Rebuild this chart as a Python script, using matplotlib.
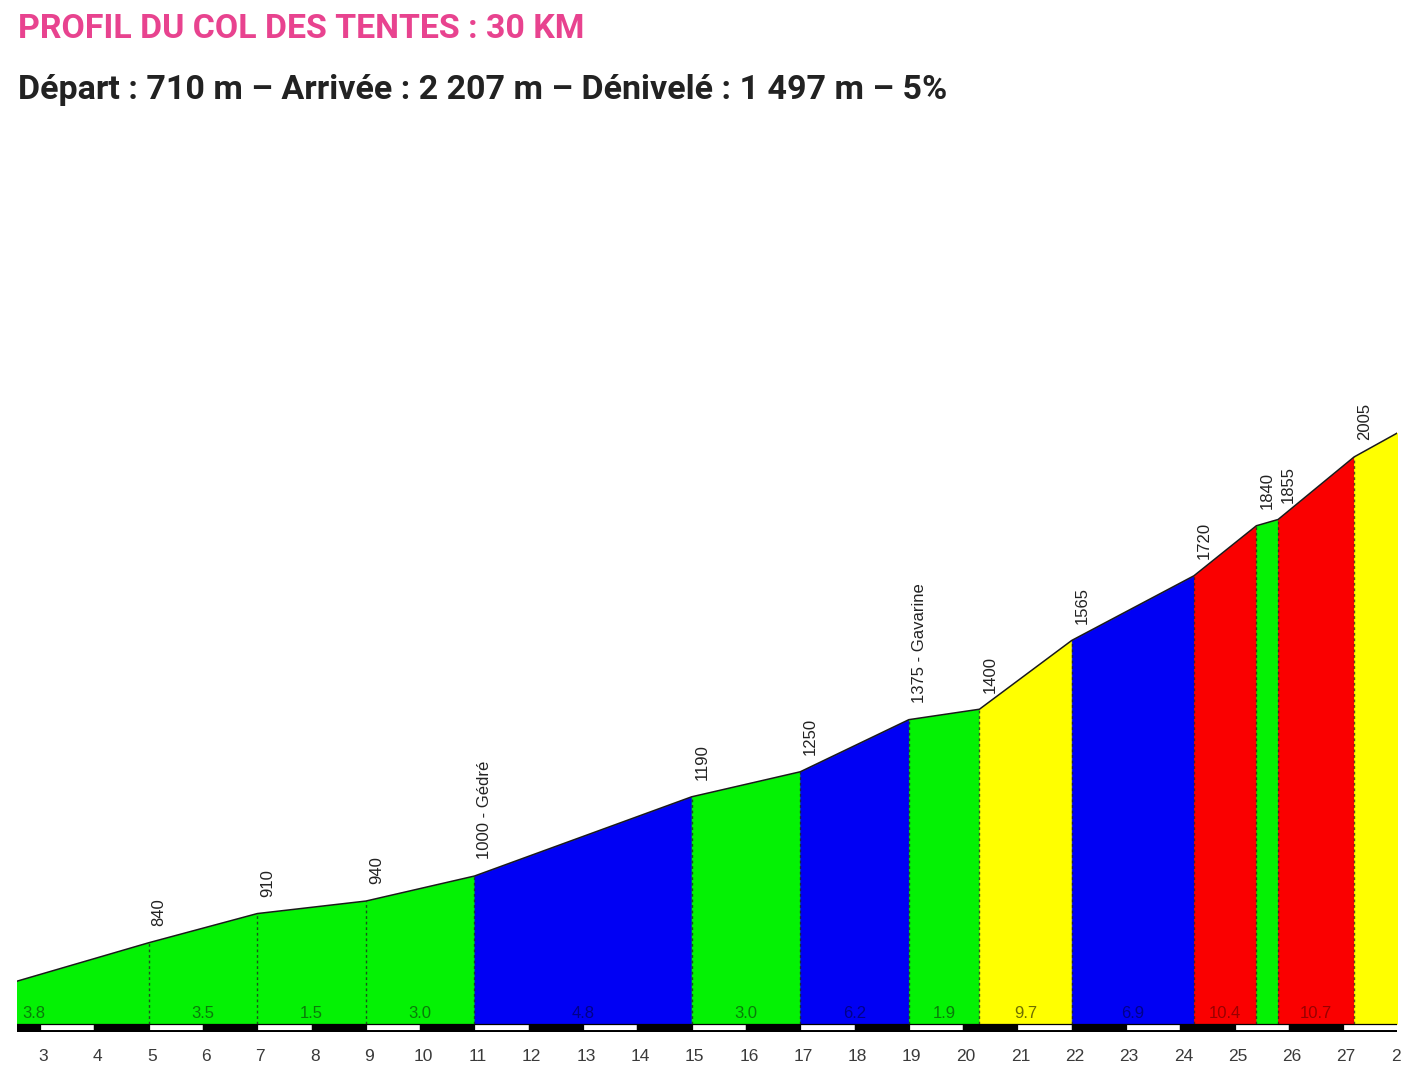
import matplotlib
matplotlib.use("Agg")
import matplotlib.pyplot as plt
from matplotlib.patches import Rectangle
from matplotlib.transforms import Bbox, TransformedBbox, ScaledTranslation
import math

# ---------------- data ----------------
title = "PROFIL DU COL DES TENTES : 30 KM"
subtitle = "Départ : 710 m – Arrivée : 2 207 m – Dénivelé : 1 497 m – 5%"

km = [0, 5, 7, 9, 11, 15, 17, 19, 20.3, 22, 24.25, 25.4, 25.8, 27.2, 30]
elev = [650, 840, 910, 940, 1000, 1190, 1250, 1375, 1400, 1565, 1720, 1840, 1855, 2005, 2207]
point_labels = ["", "840", "910", "940", "1000 - Gédré", "1190", "1250", "1375 - Gavarine",
                "1400", "1565", "1720", "1840", "1855", "2005", ""]
grade_labels = ["3.8", "3.5", "1.5", "3.0", "4.8", "3.0", "6.2", "1.9", "9.7", "6.9",
                "10.4", "", "10.7", ""]
km_ticks = list(range(3, 28))

# ---------------- style ----------------
FILL = {"green": "#04F204", "blue": "#0000F4", "yellow": "#FFFF00", "red": "#FA0000"}
TXT = {"green": "#0A7A0A", "blue": "#00008A", "yellow": "#6E6E00", "red": "#980000"}


def grade_class(g):
    if g < 4:
        return "green"
    if g < 7:
        return "blue"
    if g < 10:
        return "yellow"
    return "red"


W, H = 1414, 1092
fig = plt.figure(figsize=(W / 100, H / 100), dpi=100)
fig.patch.set_facecolor("white")

x_left, x_right = 2.575, 27.99
y_bot, y_top = 626, 2789
base = 646          # top of the km bar
bar_bot = 627.5

ax = fig.add_axes([17 / W, 60 / H, (1397 - 17) / W, (1032 - 130) / H])
ax.set_xlim(x_left, x_right)
ax.set_ylim(y_bot, y_top)
for s in ax.spines.values():
    s.set_visible(False)
ax.set_yticks([])

# coloured segments
for i in range(len(km) - 1):
    x0, x1 = km[i], km[i + 1]
    e0, e1 = elev[i], elev[i + 1]
    g = (e1 - e0) / (x1 - x0) / 10.0
    c = grade_class(g)
    ax.fill_between([x0, x1], [e0, e1], base, color=FILL[c], lw=0.6,
                    edgecolor=FILL[c], zorder=1)
    lab = grade_labels[i]
    if lab:
        mid = (x0 + x1) / 2
        if mid < x_left + 0.3:
            ax.annotate(lab, (x_left, base), xytext=(4, 2), textcoords="offset points",
                        ha="left", va="bottom", fontsize=12, color=TXT[c],
                        family="Liberation Sans", zorder=4)
        else:
            ax.annotate(lab, (mid, base), xytext=(0, 2), textcoords="offset points",
                        ha="center", va="bottom", fontsize=12, color=TXT[c],
                        family="Liberation Sans", zorder=4)

# profile outline
ax.plot(km, elev, color="#1a1a1a", lw=1.1, zorder=3, solid_joinstyle="round")

# dotted boundary lines
for x, e in zip(km[1:-1], elev[1:-1]):
    ax.plot([x, x], [base, e], color="#202020", lw=1.0, ls=(0, (2, 2)),
            alpha=0.75, zorder=2)

# elevation labels
for x, e, lab in zip(km, elev, point_labels):
    if lab:
        ax.annotate(lab, (x, e), xytext=(7.5, 12), textcoords="offset points",
                    rotation=90, ha="center", va="bottom", fontsize=12,
                    color="#222222", family="Liberation Sans", zorder=4)

# km bar
for k in range(int(math.floor(x_left)), int(math.ceil(x_right)) + 1):
    col = "white" if k % 2 == 1 else "black"
    ax.add_patch(Rectangle((k, bar_bot), 1, base - bar_bot, facecolor=col,
                           edgecolor="black", lw=0.9, zorder=2))
ax.plot([x_left, x_right], [bar_bot, bar_bot], color="black", lw=1.4, zorder=3)

# x ticks
shift = ScaledTranslation(3 / 100, 0, fig.dpi_scale_trans)
ax.set_xticks(km_ticks)
ax.set_xticklabels([str(t) for t in km_ticks])
ax.tick_params(axis="x", length=0, pad=12, labelsize=12.5, labelcolor="#3a3a3a")
for t in ax.get_xticklabels():
    t.set_family("Liberation Sans")
    t.set_transform(t.get_transform() + shift)

# partially visible last tick label
clipbox = TransformedBbox(Bbox([[0, 0], [1401 / W, 1]]), fig.transFigure)
t28 = ax.annotate("28", (28, y_bot), xytext=(2.2, -12), textcoords="offset points",
                  ha="center", va="top", fontsize=12.5, color="#3a3a3a",
                  family="Liberation Sans", annotation_clip=False)
t28.set_clip_on(True)
t28.set_clip_box(clipbox)

# header texts
fig.text(18 / W, 1 - 13 / H, title, ha="left", va="top", fontsize=24.4,
         fontweight="bold", color="#E8438F", family="Roboto")
fig.text(18 / W, 1 - 74 / H, subtitle, ha="left", va="top", fontsize=24.5,
         fontweight="bold", color="#222222", family="Roboto")

fig.savefig("out.png", dpi=100, facecolor="white")
